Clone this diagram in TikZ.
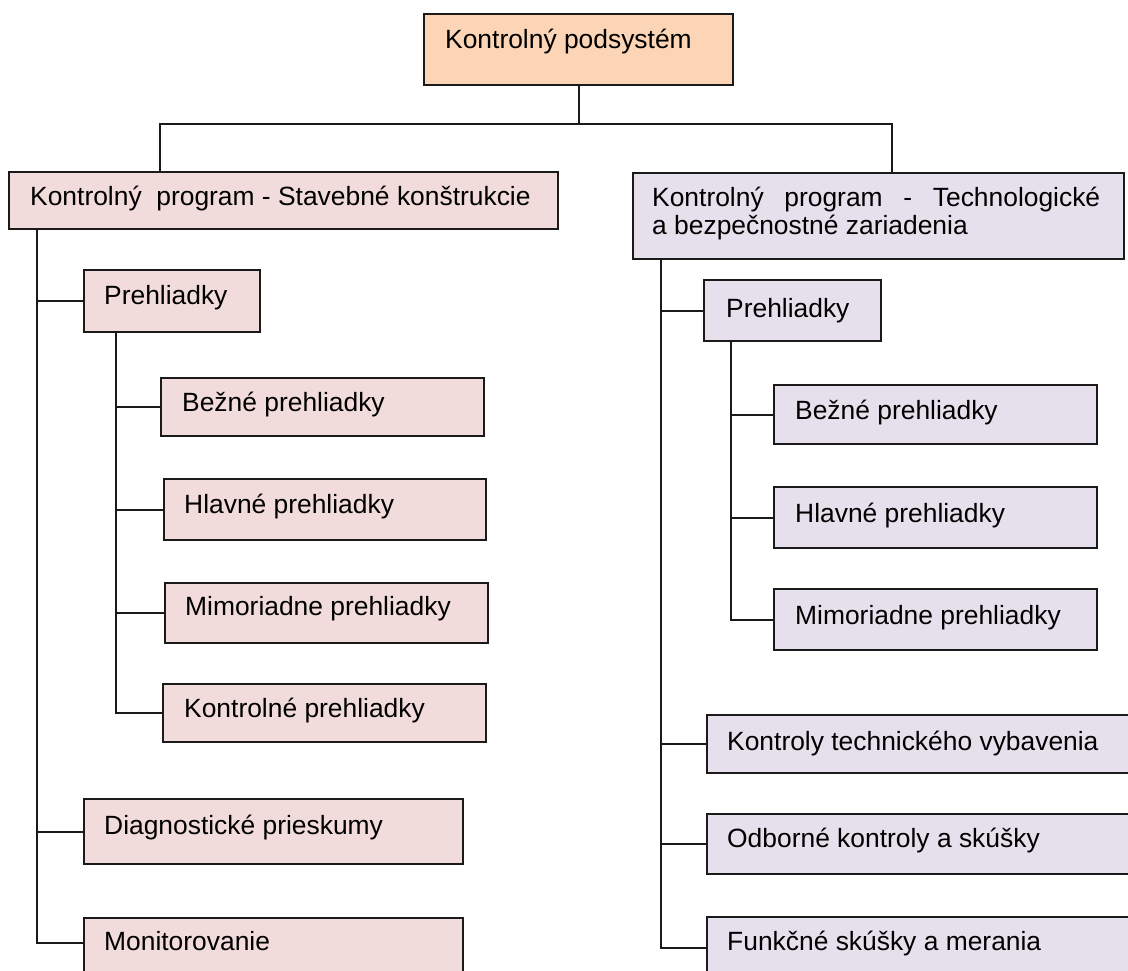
\documentclass[tikz,border=0pt]{standalone}
\usepackage{fontspec}
\setmainfont{Liberation Sans}
\definecolor{topfill}{HTML}{FBD5B5}
\definecolor{leftfill}{HTML}{F2DCDB}
\definecolor{rightfill}{HTML}{E5E0EC}
\definecolor{edge}{HTML}{1A1A1A}
% #1 name, #2 style, #3 x, #4 y (top left), #5 width, #6 height,
% #7 text x, #8 text baseline, #9 text
\newcommand\mkbox[9]{%
  \node[#2, minimum width=#5pt, minimum height=#6pt] (#1) at (#3,#4) {};
  \node[lbl] (#1-t) at (#7,#8) {#9};}
\begin{document}
\begin{tikzpicture}[x=1pt,y=-1pt,
  box/.style={draw=edge, line width=2pt, rectangle, inner sep=0pt, anchor=north west},
  topbox/.style={box, fill=topfill},
  lbox/.style={box, fill=leftfill},
  rbox/.style={box, fill=rightfill},
  lbl/.style={anchor=base west, inner sep=0pt, text=black, font=\fontsize{26.4}{27}\selectfont},
  conn/.style={draw=edge, line width=2pt}]
\clip (0,0) rectangle (1128,971);
\useasboundingbox (0,0) rectangle (1128,971);

% root
\mkbox{T}{topbox}{423}{13}{309}{71}{445}{49}{Kontrolný podsystém}

% the two programmes
\mkbox{L0}{lbox}{8}{171}{549}{57}{30}{206}{Kontrolný\ \ program - Stavebné konštrukcie}
\node[rbox, minimum width=491pt, minimum height=86pt] (R0) at (632,172) {};
\node[lbl] (R0-t1) at (652,207) {\makebox[448pt][s]{Kontrolný program - Technologické}};
\node[lbl] (R0-t2) at (652,234) {a bezpečnostné zariadenia};

% left branch
\mkbox{LP}{lbox}{83}{269}{176}{62}{104}{304}{Prehliadky}
\mkbox{LB}{lbox}{160}{377}{323}{58}{182}{411}{Bežné prehliadky}
\mkbox{LH}{lbox}{163}{478}{322}{61}{184}{513}{Hlavné prehliadky}
\mkbox{LM}{lbox}{164}{582}{323}{60}{185}{615}{Mimoriadne prehliadky}
\mkbox{LK}{lbox}{162}{683}{323}{58}{184}{717}{Kontrolné prehliadky}
\mkbox{LD}{lbox}{83}{798}{379}{65}{104}{834}{Diagnostické prieskumy}
\mkbox{LN}{lbox}{83}{917}{379}{60}{104}{950}{Monitorovanie}

% right branch
\mkbox{RP}{rbox}{703}{279}{177}{61}{726}{317}{Prehliadky}
\mkbox{RB}{rbox}{773}{384}{323}{59}{795}{419}{Bežné prehliadky}
\mkbox{RH}{rbox}{773}{486}{323}{61}{795}{522}{Hlavné prehliadky}
\mkbox{RM}{rbox}{773}{588}{323}{61}{795}{624}{Mimoriadne prehliadky}
\mkbox{RK}{rbox}{706}{714}{440}{58}{727}{750}{Kontroly technického vybavenia}
\mkbox{RO}{rbox}{706}{813}{440}{60}{727}{847}{Odborné kontroly a skúšky}
\mkbox{RF}{rbox}{706}{916}{440}{62}{727}{950}{Funkčné skúšky a merania}

% junction under the root
\coordinate (jl) at (160,124);
\coordinate (jr) at (892,124);
\draw[conn] (T.south) -- (T.south |- jl);
\draw[conn] (L0.north -| jl) -- (jl) -- (jr) -- (R0.north -| jr);

% left trunks
\coordinate (lt) at (37,228);
\coordinate (ls) at (116,331);
\coordinate (ln) at ([yshift=5pt]LN.west);
\draw[conn] (lt) |- (ln);
\foreach \n in {LP,LD} \draw[conn] (\n.west) -- (\n.west -| lt);
\draw[conn] (ls) |- (LK.west);
\foreach \n in {LB,LH,LM} \draw[conn] (\n.west) -- (\n.west -| ls);

% right trunks
\coordinate (rt) at (661,258);
\coordinate (rs) at (731,340);
\draw[conn] (rt) |- (RF.west);
\foreach \n in {RP,RK,RO} \draw[conn] (\n.west) -- (\n.west -| rt);
\draw[conn] (rs) |- (RM.west);
\foreach \n in {RB,RH} \draw[conn] (\n.west) -- (\n.west -| rs);
\end{tikzpicture}
\end{document}
